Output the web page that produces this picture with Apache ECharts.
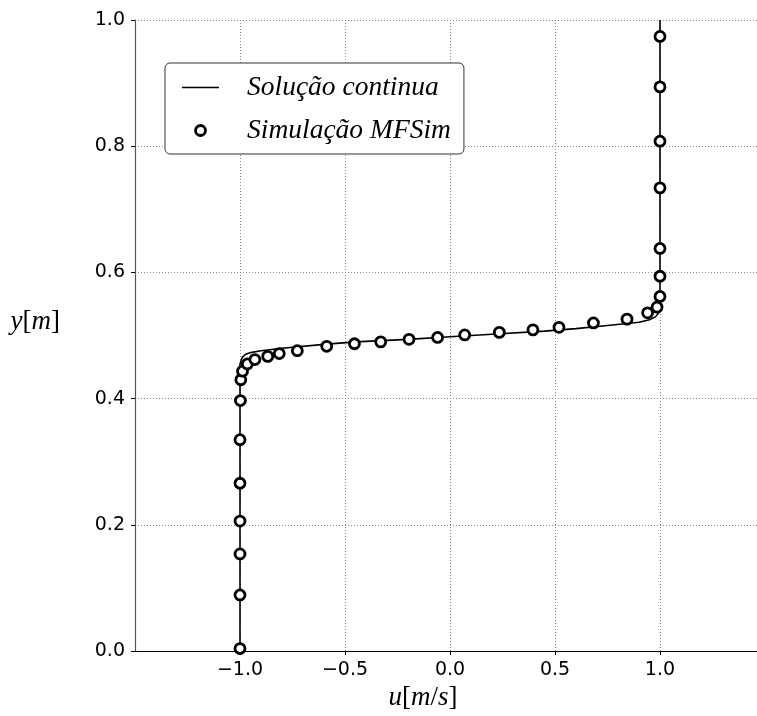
<!DOCTYPE html>
<html>
<head>
<meta charset="utf-8">
<script src="https://cdn.jsdelivr.net/npm/echarts@6/dist/echarts.min.js"></script>
<style>html,body{margin:0;padding:0;background:#fff}#c{width:757px;height:716px}</style>
</head>
<body>
<div id="c"></div>
<script>
// Continuous solution (u, y)
const lineU = [-1, -1, -0.99, -0.975, -0.95, -0.9, -0.8, -0.6, -0.45, -0.2, 0, 0.2, 0.45, 0.6, 0.75, 0.9, 0.95, 0.98, 0.995, 1, 1];
const lineY = [0, 0.455, 0.465, 0.470, 0.473, 0.476, 0.480, 0.486, 0.490, 0.494, 0.498, 0.502, 0.507, 0.511, 0.516, 0.521, 0.525, 0.530, 0.537, 0.545, 1.0];
// MFSim simulation (u, y)
const simU = [-1.0, -1.0, -1.0, -1.0, -1.0, -1.0, -0.998, -0.996, -0.988, -0.965, -0.929, -0.868, -0.813, -0.727, -0.587, -0.455, -0.330, -0.195, -0.059, 0.070, 0.235, 0.395, 0.519, 0.683, 0.843, 0.941, 0.986, 1.0, 1.0, 1.0, 1.0, 1.0, 1.0, 1.0];
const simY = [0.004, 0.089, 0.154, 0.206, 0.266, 0.335, 0.397, 0.430, 0.4435, 0.455, 0.462, 0.467, 0.4715, 0.476, 0.483, 0.487, 0.490, 0.494, 0.497, 0.501, 0.505, 0.509, 0.513, 0.520, 0.526, 0.536, 0.545, 0.562, 0.594, 0.638, 0.734, 0.808, 0.894, 0.974];
const xTicks = [-1.0, -0.5, 0.0, 0.5, 1.0];
const yTicks = [0.0, 0.2, 0.4, 0.6, 0.8, 1.0];
const seriesNames = ['Solução continua', 'Simulação MFSim'];

const lineData = lineU.map((u, i) => [u, lineY[i]]);
const simData = simU.map((u, i) => [u, simY[i]]);

const serif = 'Liberation Serif';
const tickFont = {fontFamily: 'DejaVu Sans', fontSize: 19, color: '#000'};
const fmt = v => v.toFixed(1).replace('-', '\u2212');
const rich = {
  i: {fontFamily: serif, fontStyle: 'italic', fontSize: 27, color: '#000'},
  r: {fontFamily: serif, fontSize: 27, color: '#000'}
};
const gridLine = {show: true, lineStyle: {color: '#8a8a8a', type: [1, 2], width: 1}};

const chart = echarts.init(document.getElementById('c'));
chart.setOption({
  animation: false,
  backgroundColor: '#fff',
  grid: {left: 135, top: 20, right: 0, bottom: 64, containLabel: false},
  xAxis: {
    type: 'value', min: -1.5, max: 1.462, interval: 0.5,
    axisLine: {show: true, onZero: false, lineStyle: {color: '#000', width: 1.2}},
    axisTick: {show: true, inside: false, length: 4, customValues: xTicks, lineStyle: {color: '#000'}},
    axisLabel: Object.assign({margin: 9, customValues: xTicks, formatter: fmt}, tickFont),
    splitLine: gridLine,
    name: '{i|u}{r|[}{i|m}{r|/}{i|s}{r|]}',
    nameLocation: 'middle', nameGap: 17,
    nameTextStyle: {rich: rich, padding: [0, 46, 0, 0]}
  },
  yAxis: {
    type: 'value', min: 0, max: 1, interval: 0.2,
    axisLine: {show: true, onZero: false, lineStyle: {color: '#555', width: 1.2}},
    axisTick: {show: true, inside: false, length: 4, lineStyle: {color: '#000'}},
    axisLabel: Object.assign({margin: 10, customValues: yTicks, formatter: fmt}, tickFont),
    splitLine: gridLine,
    name: '{i|y}{r|[}{i|m}{r|]}',
    nameLocation: 'middle', nameGap: 75, nameRotate: 0,
    nameTextStyle: {rich: rich, align: 'right', verticalAlign: 'bottom'}
  },
  legend: {
    left: 165, top: 63, orient: 'vertical',
    padding: [11, 13, 10, 17],
    itemGap: 16, itemWidth: 37, itemHeight: 10,
    borderColor: '#333', borderWidth: 1, borderRadius: 5, backgroundColor: '#fff',
    selectedMode: false,
    textStyle: {fontFamily: serif, fontStyle: 'italic', fontSize: 27.5, color: '#000', padding: [0, 0, 0, 23]},
    data: [
      {name: seriesNames[0], icon: 'path://M0,0H37V1.6H0Z', itemStyle: {color: '#000'}},
      {name: seriesNames[1], icon: 'circle', itemStyle: {color: '#fff', borderColor: '#000', borderWidth: 2.8, opacity: 1}}
    ]
  },
  series: [
    {
      name: seriesNames[0], type: 'line', data: lineData, symbol: 'none',
      color: '#000', lineStyle: {color: '#000', width: 1.6}, z: 2
    },
    {
      name: seriesNames[1], type: 'scatter', data: simData, symbol: 'circle', symbolSize: 10,
      itemStyle: {color: '#fff', borderColor: '#000', borderWidth: 2.8, opacity: 1}, z: 3
    }
  ]
});
</script>
</body>
</html>
